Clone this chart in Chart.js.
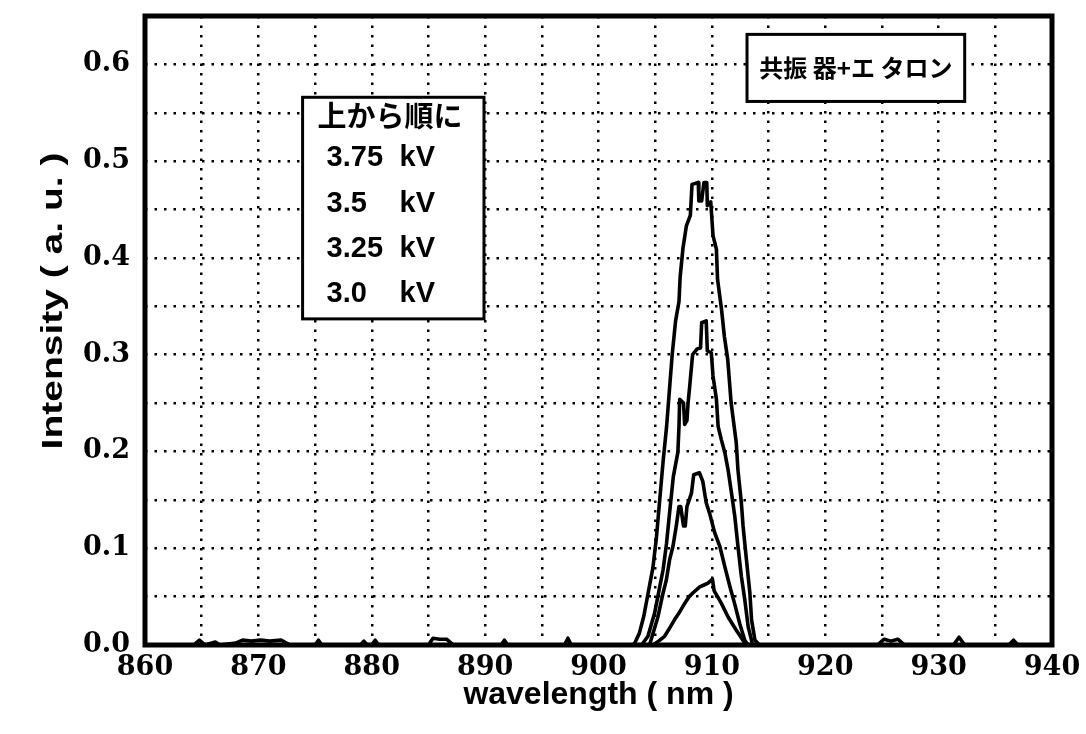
<!DOCTYPE html>
<html><head><meta charset="utf-8">
<script src="https://cdn.jsdelivr.net/npm/chart.js@4.4.0/dist/chart.umd.min.js"></script>
<style>html,body{margin:0;padding:0;background:#fff;}</style>
</head><body>
<canvas id="c" width="1086" height="734"></canvas>
<script>
// ---- data (wavelength in nm, intensity in a.u.) ----
const xTickLabels = [860, 870, 880, 890, 900, 910, 920, 930, 940];
const yTickLabels = ['0.0', '0.1', '0.2', '0.3', '0.4', '0.5', '0.6'];
const seriesNames = ['3.75', '3.5', '3.25', '3.0'];
const unitLabel = 'kV';
const boxTitle = '上から順に';
const configLabel = '共振 器+エ タロン';
const xTitle = 'wavelength ( nm )';
const yTitle = 'Intensity ( a. u. )';

// baseline noise (recorded with the 3.75 kV trace)
const baseLeftX = [860, 864.3, 864.8, 865.3, 866.2, 866.6, 868.0, 868.6, 869.4, 870.2, 871.0, 872.0, 872.8, 875.0, 875.3, 875.6, 879.0, 879.3, 879.6, 880.0, 880.3, 880.6, 885.0, 885.4, 886.0, 886.6, 887.2, 891.4, 891.7, 892.0, 897.0, 897.3, 897.6];
const baseLeftY = [0, 0, 0.005, 0, 0.003, 0, 0.002, 0.005, 0.004, 0.005, 0.004, 0.005, 0, 0, 0.005, 0, 0, 0.004, 0, 0, 0.005, 0, 0, 0.007, 0.006, 0.006, 0, 0, 0.005, 0, 0, 0.007, 0];
const baseRightX = [924.6, 925.2, 925.8, 926.4, 927.0, 931.3, 931.8, 932.3, 936.2, 936.6, 937.0, 940];
const baseRightY = [0, 0.006, 0.004, 0.006, 0, 0, 0.008, 0, 0, 0.005, 0, 0];

const kv375X = [903.0, 903.2, 903.6, 904.0, 904.4, 904.8, 905.1, 905.4, 905.7, 906.0, 906.3, 906.5, 906.8, 907.1, 907.2, 907.45, 907.75, 908.1, 908.25, 908.8, 908.85, 909.1, 909.3, 909.55, 909.6, 909.9, 910.1, 910.4, 910.5, 910.85, 911.1, 911.4, 911.7, 912.15, 912.3, 912.6, 912.75, 913.05, 913.35, 913.5, 913.8, 914.2];
const kv375Y = [0, 0.002, 0.012, 0.03, 0.055, 0.08, 0.11, 0.15, 0.19, 0.225, 0.27, 0.30, 0.335, 0.355, 0.38, 0.41, 0.433, 0.444, 0.476, 0.478, 0.459, 0.459, 0.478, 0.478, 0.454, 0.458, 0.423, 0.409, 0.378, 0.347, 0.319, 0.295, 0.25, 0.209, 0.181, 0.147, 0.123, 0.088, 0.054, 0.026, 0.005, 0];

const kv35X = [903.8, 904.36, 904.95, 905.4, 905.7, 906.0, 906.3, 906.6, 907.0, 907.1, 907.16, 907.5, 907.6, 907.8, 907.9, 908.05, 908.3, 908.7, 909.0, 909.1, 909.5, 909.6, 909.95, 910.1, 910.4, 910.55, 910.84, 911.14, 911.43, 911.73, 912.02, 912.3, 912.6, 912.9, 913.2, 913.6];
const kv35Y = [0, 0.009, 0.033, 0.06, 0.078, 0.105, 0.14, 0.174, 0.199, 0.226, 0.254, 0.25, 0.228, 0.232, 0.25, 0.268, 0.30, 0.306, 0.307, 0.333, 0.335, 0.304, 0.302, 0.278, 0.254, 0.226, 0.212, 0.199, 0.181, 0.157, 0.133, 0.102, 0.071, 0.047, 0.019, 0];

const kv325X = [904.5, 905.24, 905.7, 905.98, 906.27, 906.57, 906.86, 907.1, 907.25, 907.5, 907.65, 907.8, 908.2, 908.4, 908.9, 909.2, 909.5, 909.8, 910.25, 910.7, 911.14, 911.6, 912.0, 912.46, 912.9, 913.2];
const kv325Y = [0, 0.029, 0.054, 0.067, 0.088, 0.102, 0.123, 0.143, 0.143, 0.123, 0.123, 0.143, 0.157, 0.176, 0.178, 0.169, 0.147, 0.136, 0.116, 0.102, 0.081, 0.06, 0.043, 0.022, 0.005, 0];

const kv30X = [904.8, 905.3, 905.83, 906.3, 906.7, 907.1, 907.6, 908.0, 908.34, 908.93, 909.3, 909.66, 910.05, 910.2, 910.5, 910.84, 911.43, 912.17, 912.9, 913.3];
const kv30Y = [0, 0.004, 0.009, 0.018, 0.026, 0.033, 0.043, 0.05, 0.054, 0.06, 0.062, 0.064, 0.068, 0.056, 0.05, 0.043, 0.029, 0.015, 0.002, 0];

// ---- build ----
const pts = (xs, ys) => xs.map((x, i) => ({x: x, y: ys[i]}));
const datasets = [
  {label: seriesNames[0] + ' ' + unitLabel, data: pts(baseLeftX, baseLeftY).concat(pts(kv375X, kv375Y), pts(baseRightX, baseRightY))},
  {label: seriesNames[1] + ' ' + unitLabel, data: pts(kv35X, kv35Y)},
  {label: seriesNames[2] + ' ' + unitLabel, data: pts(kv325X, kv325Y)},
  {label: seriesNames[3] + ' ' + unitLabel, data: pts(kv30X, kv30Y)}
].map(d => Object.assign(d, {borderColor: '#000', borderWidth: 3.6, pointRadius: 0, tension: 0, fill: false, borderJoinStyle: 'round'}));

const serifTick = {family: 'DejaVu Serif', weight: 'bold', size: 27};
const sansTitle = {family: 'Liberation Sans', weight: 'bold', size: 32};

const framePlugin = {
  id: 'frameAndBoxes',
  afterDraw(chart) {
    const {ctx, chartArea: a, scales: {x, y}} = chart;
    ctx.save();
    // y-axis title (drawn stretched along its length like the original)
    ctx.save();
    ctx.translate(54, y.getPixelForValue(0.3555));
    ctx.rotate(-Math.PI / 2);
    ctx.scale(1.3, 1);
    ctx.font = 'bold 30px "Liberation Sans"';
    ctx.fillStyle = '#000'; ctx.textAlign = 'center'; ctx.textBaseline = 'middle';
    ctx.fillText(yTitle, 0, 0);
    ctx.restore();
    // legend box
    const b1 = {l: x.getPixelForValue(873.9), r: x.getPixelForValue(889.9), t: y.getPixelForValue(0.566), b: y.getPixelForValue(0.337)};
    ctx.fillStyle = '#fff';
    ctx.fillRect(b1.l, b1.t, b1.r - b1.l, b1.b - b1.t);
    ctx.strokeStyle = '#000'; ctx.lineWidth = 3;
    ctx.strokeRect(b1.l, b1.t, b1.r - b1.l, b1.b - b1.t);
    ctx.fillStyle = '#000';
    ctx.textBaseline = 'middle'; ctx.textAlign = 'left';
    ctx.font = 'bold 29px "Noto Sans CJK JP"';
    ctx.fillText(boxTitle, b1.l + 15, b1.t + 19);
    ctx.font = 'bold 29px "Liberation Sans"';
    seriesNames.forEach((s, i) => {
      const yy = b1.t + 61 + i * 45.3;
      ctx.fillText(s, b1.l + 24, yy);
      ctx.fillText(unitLabel, b1.l + 97, yy);
    });
    // configuration box
    const b2 = {l: x.getPixelForValue(913.1), r: x.getPixelForValue(932.3), t: y.getPixelForValue(0.631), b: y.getPixelForValue(0.5617)};
    ctx.fillStyle = '#fff';
    ctx.fillRect(b2.l, b2.t, b2.r - b2.l, b2.b - b2.t);
    ctx.strokeRect(b2.l, b2.t, b2.r - b2.l, b2.b - b2.t);
    ctx.fillStyle = '#000';
    ctx.font = 'bold 24px "Noto Sans CJK JP"';
    ctx.textAlign = 'center';
    ctx.fillText(configLabel, (b2.l + b2.r) / 2, (b2.t + b2.b) / 2);
    // frame
    ctx.lineWidth = 5;
    ctx.strokeRect(a.left, a.top, a.right - a.left, a.bottom - a.top);
    ctx.restore();
  }
};

new Chart(document.getElementById('c'), {
  type: 'line',
  data: {datasets},
  options: {
    responsive: false,
    animation: false,
    devicePixelRatio: 1,
    layout: {padding: {top: 16, right: 34, left: 0, bottom: 0}},
    plugins: {legend: {display: false}, tooltip: {enabled: false}},
    scales: {
      x: {
        type: 'linear', min: 860, max: 940,
        afterFit: s => { s.height = 89; s.paddingLeft = 0; s.paddingRight = 0; },
        ticks: {stepSize: 5, autoSkip: false, maxRotation: 0, padding: 7, color: '#000', font: serifTick,
          callback: v => { const i = xTickLabels.indexOf(Math.round(v)); return (Math.abs(v - Math.round(v)) < 1e-6 && i >= 0) ? String(xTickLabels[i]) : ''; }},
        grid: {color: '#000', lineWidth: 2.5, drawTicks: false},
        border: {display: false, dash: [2.5, 7]},
        title: {display: true, text: xTitle, color: '#000', font: sansTitle, padding: {top: 0, bottom: 20}}
      },
      y: {
        min: 0, max: 0.65,
        afterFit: s => { s.width = 145; s.paddingTop = 0; s.paddingBottom = 0; },
        ticks: {stepSize: 0.05, autoSkip: false, padding: 15, color: '#000', font: serifTick,
          callback: v => { const k = Math.round(v * 10); return Math.abs(v * 10 - k) < 1e-6 && yTickLabels[k] ? yTickLabels[k] : ''; }},
        grid: {color: '#000', lineWidth: 2.5, drawTicks: false},
        border: {display: false, dash: [2.5, 7]}
      }
    }
  },
  plugins: [framePlugin]
});
</script>
</body></html>
